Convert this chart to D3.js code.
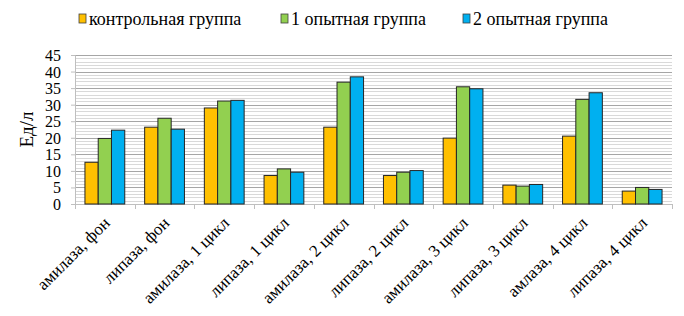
<!DOCTYPE html>
<html>
<head>
<meta charset="utf-8">
<script src="https://cdn.jsdelivr.net/npm/d3@7"></script>
<style>
  body { margin: 0; background: #fff; }
</style>
</head>
<body>
<div id="chart"></div>
<script>
// data
const categories = ['амилаза, фон', 'липаза, фон', 'амилаза, 1 цикл', 'липаза, 1 цикл',
  'амилаза, 2 цикл', 'липаза, 2 цикл', 'амилаза, 3 цикл', 'липаза, 3 цикл',
  'амлаза, 4 цикл', 'липаза, 4 цикл'];
const seriesNames = ['контрольная группа', '1 опытная группа', '2 опытная группа'];
const control = [12.6, 23.2, 29.0, 8.6, 23.2, 8.6, 19.9, 5.7, 20.5, 3.9];
const group1  = [19.8, 25.9, 31.1, 10.6, 36.8, 9.6, 35.4, 5.4, 31.6, 5.0];
const group2  = [22.3, 22.6, 31.3, 9.6, 38.4, 10.1, 34.8, 5.9, 33.6, 4.4];
const yTicks = [0, 5, 10, 15, 20, 25, 30, 35, 40, 45];
const colors = ['#FFC000', '#92D050', '#00B0F0'];

const width = 684, height = 316;
const margin = {top: 55, right: 12, bottom: 112, left: 75};
const innerW = width - margin.left - margin.right;
const innerH = height - margin.top - margin.bottom;
const serif = "'Liberation Serif', serif";

const svg = d3.select('#chart').append('svg')
  .attr('width', width).attr('height', height);
const chart = svg.append('g')
  .attr('transform', `translate(${margin.left},${margin.top})`);

const x = d3.scaleBand().domain(categories).range([0, innerW]);
// gap width 150% like the office default
const barW = x.bandwidth() / 4.5;
const xInner = d3.scaleBand().domain(seriesNames)
  .range([barW * 0.75, barW * 3.75]);
const y = d3.scaleLinear().domain([0, 45]).range([innerH, 0]);

// minor grid (every 1)
chart.append('g').selectAll('line')
  .data(d3.range(1, 46).filter(v => v % 5 !== 0))
  .join('line')
  .attr('x1', 0).attr('x2', innerW)
  .attr('y1', d => Math.round(y(d)) + 0.5).attr('y2', d => Math.round(y(d)) + 0.5)
  .attr('stroke', '#d9d9d9').attr('stroke-width', 1);

// major grid
chart.append('g').selectAll('line')
  .data(yTicks.slice(1))
  .join('line')
  .attr('x1', 0).attr('x2', innerW)
  .attr('y1', d => Math.round(y(d)) + 0.5).attr('y2', d => Math.round(y(d)) + 0.5)
  .attr('stroke', '#a6a6a6').attr('stroke-width', 1);

// y axis
const axisY = chart.append('g')
  .call(d3.axisLeft(y).tickValues(yTicks).tickSize(4).tickPadding(10));
axisY.select('.domain').attr('stroke', '#bfbfbf');
axisY.selectAll('.tick line').attr('stroke', '#bfbfbf');
axisY.selectAll('.tick text')
  .style('font-family', serif).style('font-size', '16px')
  .attr('fill', '#000').attr('dy', '0.34em');

// x axis with ticks between categories
const axisX = chart.append('g')
  .attr('transform', `translate(0,${innerH})`);
axisX.append('line')
  .attr('x1', 0).attr('x2', innerW).attr('y1', 0.5).attr('y2', 0.5)
  .attr('stroke', '#bfbfbf');
axisX.selectAll('line.sep')
  .data(d3.range(categories.length + 1))
  .join('line').classed('sep', true)
  .attr('x1', i => Math.round(i * x.step()) + 0.5)
  .attr('x2', i => Math.round(i * x.step()) + 0.5)
  .attr('y1', 0).attr('y2', 5)
  .attr('stroke', '#bfbfbf');
axisX.selectAll('text')
  .data(categories)
  .join('text')
  .attr('transform', d => `translate(${x(d) + x.bandwidth() / 2 + 6},${20}) rotate(-45)`)
  .attr('text-anchor', 'end')
  .style('font-family', serif).style('font-size', '17px')
  .text(d => d);

// bars
const rows = categories.map((c, i) => ({cat: c, vals: [control[i], group1[i], group2[i]]}));
chart.append('g').selectAll('g')
  .data(rows)
  .join('g')
  .attr('transform', d => `translate(${x(d.cat)},0)`)
  .selectAll('rect')
  .data(d => d.vals.map((v, j) => ({name: seriesNames[j], v, j})))
  .join('rect')
  .attr('x', d => xInner(d.name))
  .attr('width', barW)
  .attr('y', d => y(d.v))
  .attr('height', d => y(0) - y(d.v))
  .attr('fill', d => colors[d.j])
  .attr('stroke', '#262626')
  .attr('stroke-width', 1);

// y label
svg.append('text')
  .attr('transform', `translate(33,${margin.top + innerH / 2}) rotate(-90)`)
  .attr('text-anchor', 'middle')
  .style('font-family', serif).style('font-size', '19px')
  .text('Ед/л');

// legend
const legendX = [79, 281, 463];
const legend = svg.append('g').selectAll('g')
  .data(seriesNames)
  .join('g')
  .attr('transform', (d, i) => `translate(${legendX[i]},20)`);
legend.append('rect')
  .attr('x', 0).attr('y', -6).attr('width', 7).attr('height', 9)
  .attr('fill', (d, i) => colors[i])
  .attr('stroke', '#404040').attr('stroke-width', 0.8);
legend.append('text')
  .attr('x', 10).attr('y', 5)
  .style('font-family', serif).style('font-size', '18px')
  .text(d => d);
</script>
</body>
</html>
